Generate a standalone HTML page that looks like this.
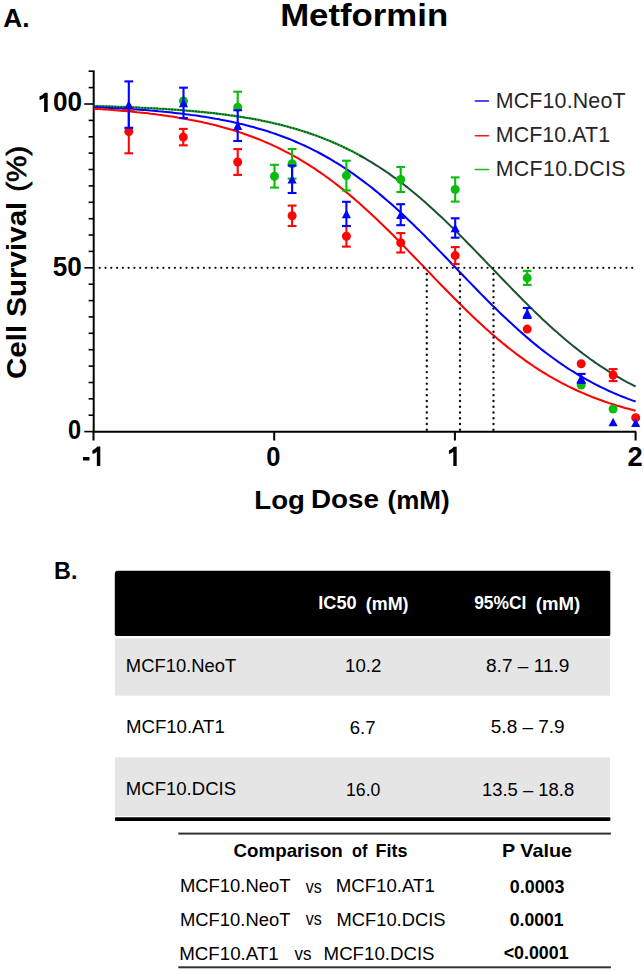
<!DOCTYPE html>
<html><head><meta charset="utf-8"><style>
html,body{margin:0;padding:0;background:#fff;width:644px;height:972px;overflow:hidden}
svg{display:block}
text{font-family:"Liberation Sans",sans-serif}
</style></head><body>
<svg width="644" height="972" viewBox="0 0 644 972">
<rect width="644" height="972" fill="#fff"/>
<path d="M117.8,570.7 H608.8 Q610.3,570.7 610.3,572.2 V634.4 Q610.3,635.9 608.8,635.9 H116.5 Q114.8,635.9 114.8,634.2 V573.7 Q114.8,570.7 117.8,570.7 Z" fill="#000"/>
<rect x="114.9" y="638.3" width="495.2" height="57.4" fill="#e5e5e5"/>
<rect x="114.9" y="757.3" width="495.2" height="58.7" fill="#e5e5e5"/>
<rect x="115" y="817.3" width="495.4" height="3.8" rx="0.8" fill="#000"/>
<rect x="178.3" y="832.6" width="432.6" height="2" fill="#333"/>
<rect x="178.3" y="966.3" width="432.6" height="2" fill="#333"/>
<line x1="93.7" y1="70.5" x2="93.7" y2="432.5" stroke="#000" stroke-width="2"/>
<line x1="92.7" y1="431.7" x2="636.2" y2="431.7" stroke="#000" stroke-width="2"/>
<line x1="84.3" y1="431.6" x2="93.7" y2="431.6" stroke="#000" stroke-width="1.6"/>
<line x1="88.6" y1="415.2" x2="93.7" y2="415.2" stroke="#000" stroke-width="1.6"/>
<line x1="88.6" y1="398.8" x2="93.7" y2="398.8" stroke="#000" stroke-width="1.6"/>
<line x1="88.6" y1="382.5" x2="93.7" y2="382.5" stroke="#000" stroke-width="1.6"/>
<line x1="88.6" y1="366.1" x2="93.7" y2="366.1" stroke="#000" stroke-width="1.6"/>
<line x1="88.6" y1="349.7" x2="93.7" y2="349.7" stroke="#000" stroke-width="1.6"/>
<line x1="88.6" y1="333.3" x2="93.7" y2="333.3" stroke="#000" stroke-width="1.6"/>
<line x1="88.6" y1="316.9" x2="93.7" y2="316.9" stroke="#000" stroke-width="1.6"/>
<line x1="88.6" y1="300.6" x2="93.7" y2="300.6" stroke="#000" stroke-width="1.6"/>
<line x1="88.6" y1="284.2" x2="93.7" y2="284.2" stroke="#000" stroke-width="1.6"/>
<line x1="84.3" y1="267.8" x2="93.7" y2="267.8" stroke="#000" stroke-width="1.6"/>
<line x1="88.6" y1="251.4" x2="93.7" y2="251.4" stroke="#000" stroke-width="1.6"/>
<line x1="88.6" y1="235.0" x2="93.7" y2="235.0" stroke="#000" stroke-width="1.6"/>
<line x1="88.6" y1="218.7" x2="93.7" y2="218.7" stroke="#000" stroke-width="1.6"/>
<line x1="88.6" y1="202.3" x2="93.7" y2="202.3" stroke="#000" stroke-width="1.6"/>
<line x1="88.6" y1="185.9" x2="93.7" y2="185.9" stroke="#000" stroke-width="1.6"/>
<line x1="88.6" y1="169.5" x2="93.7" y2="169.5" stroke="#000" stroke-width="1.6"/>
<line x1="88.6" y1="153.1" x2="93.7" y2="153.1" stroke="#000" stroke-width="1.6"/>
<line x1="88.6" y1="136.8" x2="93.7" y2="136.8" stroke="#000" stroke-width="1.6"/>
<line x1="88.6" y1="120.4" x2="93.7" y2="120.4" stroke="#000" stroke-width="1.6"/>
<line x1="84.3" y1="104.0" x2="93.7" y2="104.0" stroke="#000" stroke-width="1.6"/>
<line x1="88.6" y1="87.6" x2="93.7" y2="87.6" stroke="#000" stroke-width="1.6"/>
<line x1="88.6" y1="71.2" x2="93.7" y2="71.2" stroke="#000" stroke-width="1.6"/>
<line x1="93.5" y1="431.7" x2="93.5" y2="440.5" stroke="#000" stroke-width="2"/>
<line x1="274.2" y1="431.7" x2="274.2" y2="440.5" stroke="#000" stroke-width="2"/>
<line x1="454.9" y1="431.7" x2="454.9" y2="440.5" stroke="#000" stroke-width="2"/>
<line x1="635.6" y1="431.7" x2="635.6" y2="440.5" stroke="#000" stroke-width="2"/>
<polyline points="93.5,106.0 96.2,106.1 99.0,106.2 101.7,106.3 104.4,106.3 107.1,106.4 109.9,106.5 112.6,106.6 115.3,106.7 118.1,106.8 120.8,106.9 123.5,107.0 126.2,107.1 129.0,107.2 131.7,107.3 134.4,107.4 137.2,107.5 139.9,107.7 142.6,107.8 145.3,107.9 148.1,108.1 150.8,108.2 153.5,108.3 156.3,108.5 159.0,108.7 161.7,108.8 164.4,109.0 167.2,109.2 169.9,109.3 172.6,109.5 175.4,109.7 178.1,109.9 180.8,110.1 183.5,110.3 186.3,110.6 189.0,110.8 191.7,111.0 194.5,111.3 197.2,111.5 199.9,111.8 202.6,112.0 205.4,112.3 208.1,112.6 210.8,112.9 213.6,113.2 216.3,113.5 219.0,113.8 221.7,114.2 224.5,114.5 227.2,114.9 229.9,115.3 232.6,115.6 235.4,116.0 238.1,116.5 240.8,116.9 243.6,117.3 246.3,117.8 249.0,118.2 251.7,118.7 254.5,119.2 257.2,119.7 259.9,120.2 262.7,120.8 265.4,121.4 268.1,121.9 270.8,122.5 273.6,123.2 276.3,123.8 279.0,124.4 281.8,125.1 284.5,125.8 287.2,126.5 289.9,127.3 292.7,128.0 295.4,128.8 298.1,129.6 300.9,130.5 303.6,131.3 306.3,132.2 309.0,133.1 311.8,134.1 314.5,135.0 317.2,136.0 320.0,137.0 322.7,138.1 325.4,139.2 328.1,140.3 330.9,141.4 333.6,142.6 336.3,143.8 339.1,145.0 341.8,146.3 344.5,147.6 347.2,148.9 350.0,150.2 352.7,151.6 355.4,153.1 358.2,154.5 360.9,156.1 363.6,157.6" fill="none" stroke="#22a52c" stroke-width="2.3"/>
<polyline points="93.5,106.0 96.2,106.1 99.0,106.2 101.7,106.3 104.4,106.3 107.1,106.4 109.9,106.5 112.6,106.6 115.3,106.7 118.1,106.8 120.8,106.9 123.5,107.0 126.2,107.1 129.0,107.2 131.7,107.3 134.4,107.4 137.2,107.5 139.9,107.7 142.6,107.8 145.3,107.9 148.1,108.1 150.8,108.2 153.5,108.3 156.3,108.5 159.0,108.7 161.7,108.8 164.4,109.0 167.2,109.2 169.9,109.3 172.6,109.5 175.4,109.7 178.1,109.9 180.8,110.1 183.5,110.3 186.3,110.6 189.0,110.8 191.7,111.0 194.5,111.3 197.2,111.5 199.9,111.8 202.6,112.0 205.4,112.3 208.1,112.6 210.8,112.9 213.6,113.2 216.3,113.5 219.0,113.8 221.7,114.2 224.5,114.5 227.2,114.9 229.9,115.3 232.6,115.6 235.4,116.0 238.1,116.5 240.8,116.9 243.6,117.3 246.3,117.8 249.0,118.2 251.7,118.7 254.5,119.2 257.2,119.7 259.9,120.2 262.7,120.8 265.4,121.4 268.1,121.9 270.8,122.5 273.6,123.2 276.3,123.8 279.0,124.4 281.8,125.1 284.5,125.8 287.2,126.5 289.9,127.3 292.7,128.0 295.4,128.8 298.1,129.6 300.9,130.5 303.6,131.3 306.3,132.2 309.0,133.1 311.8,134.1 314.5,135.0 317.2,136.0 320.0,137.0 322.7,138.1 325.4,139.2 328.1,140.3 330.9,141.4 333.6,142.6 336.3,143.8 339.1,145.0 341.8,146.3 344.5,147.6 347.2,148.9 350.0,150.2 352.7,151.6 355.4,153.1 358.2,154.5 360.9,156.1 363.6,157.6" fill="none" stroke="#103f30" stroke-width="1.5" stroke-dasharray="1.5 1.5"/>
<polyline points="360.0,155.6 362.7,157.1 365.5,158.7 368.2,160.3 370.9,161.9 373.6,163.6 376.4,165.3 379.1,167.0 381.8,168.8 384.6,170.6 387.3,172.5 390.0,174.4 392.7,176.4 395.5,178.3 398.2,180.4 400.9,182.4 403.7,184.5 406.4,186.6 409.1,188.8 411.8,191.0 414.6,193.2 417.3,195.5 420.0,197.8 422.8,200.2 425.5,202.6 428.2,205.0 430.9,207.4 433.7,209.9 436.4,212.4 439.1,214.9 441.9,217.5 444.6,220.1 447.3,222.7 450.0,225.4 452.8,228.0 455.5,230.7 458.2,233.4 461.0,236.2 463.7,238.9 466.4,241.7 469.1,244.5 471.9,247.3 474.6,250.1 477.3,252.9 480.1,255.7 482.8,258.5 485.5,261.4 488.2,264.2 491.0,267.1 493.7,269.9 496.4,272.8 499.2,275.6 501.9,278.5 504.6,281.3 507.4,284.1 510.1,286.9 512.8,289.7 515.5,292.5 518.3,295.3 521.0,298.0 523.7,300.8 526.5,303.5 529.2,306.2 531.9,308.9 534.6,311.6 537.4,314.2 540.1,316.8 542.8,319.4 545.6,321.9 548.3,324.4 551.0,326.9 553.7,329.4 556.5,331.8 559.2,334.2 561.9,336.6 564.7,338.9 567.4,341.2 570.1,343.5 572.8,345.7 575.6,347.9 578.3,350.0 581.0,352.1 583.8,354.2 586.5,356.2 589.2,358.2 591.9,360.2 594.7,362.1 597.4,364.0 600.1,365.9 602.9,367.7 605.6,369.4 608.3,371.2 611.0,372.9 613.8,374.5 616.5,376.1 619.2,377.7 622.0,379.3 624.7,380.8 627.4,382.3 630.1,383.7 632.9,385.1 635.6,386.5" fill="none" stroke="#1b5034" stroke-width="2.0"/>
<polyline points="93.5,107.2 96.2,107.3 98.9,107.4 101.6,107.6 104.3,107.7 107.1,107.8 109.8,107.9 112.5,108.1 115.2,108.2 117.9,108.4 120.6,108.5 123.3,108.7 126.0,108.8 128.7,109.0 131.4,109.2 134.2,109.4 136.9,109.5 139.6,109.7 142.3,109.9 145.0,110.1 147.7,110.3 150.4,110.6 153.1,110.8 155.8,111.0 158.6,111.3 161.3,111.5 164.0,111.8 166.7,112.0 169.4,112.3 172.1,112.6 174.8,112.9 177.5,113.2 180.2,113.5 182.9,113.8 185.7,114.2 188.4,114.5 191.1,114.9 193.8,115.2 196.5,115.6 199.2,116.0 201.9,116.4 204.6,116.8 207.3,117.3 210.1,117.7 212.8,118.2 215.5,118.7 218.2,119.1 220.9,119.7 223.6,120.2 226.3,120.7 229.0,121.3 231.7,121.8 234.4,122.4 237.2,123.0 239.9,123.7 242.6,124.3 245.3,125.0 248.0,125.7 250.7,126.4 253.4,127.1 256.1,127.9 258.8,128.7 261.6,129.5 264.3,130.3 267.0,131.1 269.7,132.0 272.4,132.9 275.1,133.8 277.8,134.8 280.5,135.7 283.2,136.7 285.9,137.8 288.7,138.8 291.4,139.9 294.1,141.0 296.8,142.2 299.5,143.4 302.2,144.6 304.9,145.8 307.6,147.1 310.3,148.4 313.1,149.8 315.8,151.1 318.5,152.5 321.2,154.0 323.9,155.5 326.6,157.0 329.3,158.5 332.0,160.1 334.7,161.8 337.4,163.4 340.2,165.1 342.9,166.9 345.6,168.6 348.3,170.4 351.0,172.3 353.7,174.2 356.4,176.1 359.1,178.1 361.8,180.1 364.5,182.1 367.3,184.2 370.0,186.3 372.7,188.4 375.4,190.6 378.1,192.8 380.8,195.1 383.5,197.4 386.2,199.7 388.9,202.0 391.7,204.4 394.4,206.8 397.1,209.3 399.8,211.8 402.5,214.3 405.2,216.8 407.9,219.4 410.6,222.0 413.3,224.6 416.0,227.3 418.8,229.9 421.5,232.6 424.2,235.3 426.9,238.1 429.6,240.8 432.3,243.6 435.0,246.3 437.7,249.1 440.4,251.9 443.2,254.7 445.9,257.5 448.6,260.4 451.3,263.2 454.0,266.0 456.7,268.8 459.4,271.7 462.1,274.5 464.8,277.3 467.5,280.1 470.3,282.9 473.0,285.7 475.7,288.5 478.4,291.3 481.1,294.1 483.8,296.8 486.5,299.5 489.2,302.3 491.9,305.0 494.7,307.6 497.4,310.3 500.1,312.9 502.8,315.5 505.5,318.1 508.2,320.6 510.9,323.1 513.6,325.6 516.3,328.1 519.0,330.5 521.8,332.9 524.5,335.3 527.2,337.6 529.9,339.9 532.6,342.2 535.3,344.4 538.0,346.6 540.7,348.8 543.4,350.9 546.2,353.0 548.9,355.0 551.6,357.0 554.3,359.0 557.0,360.9 559.7,362.8 562.4,364.7 565.1,366.5 567.8,368.3 570.5,370.0 573.3,371.7 576.0,373.4 578.7,375.0 581.4,376.6 584.1,378.2 586.8,379.7 589.5,381.2 592.2,382.7 594.9,384.1 597.7,385.5 600.4,386.8 603.1,388.1 605.8,389.4 608.5,390.7 611.2,391.9 613.9,393.1 616.6,394.3 619.3,395.4 622.0,396.5 624.8,397.5 627.5,398.6 630.2,399.6 632.9,400.6 635.6,401.5" fill="none" stroke="#0000ff" stroke-width="2.05"/>
<polyline points="93.5,108.7 96.2,108.9 98.9,109.1 101.6,109.3 104.3,109.4 107.1,109.6 109.8,109.8 112.5,110.0 115.2,110.2 117.9,110.4 120.6,110.7 123.3,110.9 126.0,111.1 128.7,111.4 131.4,111.6 134.2,111.9 136.9,112.2 139.6,112.4 142.3,112.7 145.0,113.0 147.7,113.3 150.4,113.7 153.1,114.0 155.8,114.3 158.6,114.7 161.3,115.0 164.0,115.4 166.7,115.8 169.4,116.2 172.1,116.6 174.8,117.0 177.5,117.5 180.2,117.9 182.9,118.4 185.7,118.9 188.4,119.4 191.1,119.9 193.8,120.4 196.5,121.0 199.2,121.5 201.9,122.1 204.6,122.7 207.3,123.3 210.1,124.0 212.8,124.6 215.5,125.3 218.2,126.0 220.9,126.7 223.6,127.5 226.3,128.2 229.0,129.0 231.7,129.8 234.4,130.6 237.2,131.5 239.9,132.4 242.6,133.3 245.3,134.2 248.0,135.2 250.7,136.2 253.4,137.2 256.1,138.2 258.8,139.3 261.6,140.4 264.3,141.6 267.0,142.7 269.7,143.9 272.4,145.1 275.1,146.4 277.8,147.7 280.5,149.0 283.2,150.4 285.9,151.8 288.7,153.2 291.4,154.7 294.1,156.1 296.8,157.7 299.5,159.2 302.2,160.9 304.9,162.5 307.6,164.2 310.3,165.9 313.1,167.6 315.8,169.4 318.5,171.3 321.2,173.1 323.9,175.0 326.6,177.0 329.3,178.9 332.0,181.0 334.7,183.0 337.4,185.1 340.2,187.2 342.9,189.4 345.6,191.6 348.3,193.8 351.0,196.1 353.7,198.4 356.4,200.7 359.1,203.1 361.8,205.5 364.5,207.9 367.3,210.4 370.0,212.9 372.7,215.4 375.4,218.0 378.1,220.6 380.8,223.2 383.5,225.8 386.2,228.5 388.9,231.1 391.7,233.8 394.4,236.5 397.1,239.3 399.8,242.0 402.5,244.8 405.2,247.6 407.9,250.4 410.6,253.2 413.3,256.0 416.0,258.8 418.8,261.6 421.5,264.4 424.2,267.3 426.9,270.1 429.6,272.9 432.3,275.8 435.0,278.6 437.7,281.4 440.4,284.2 443.2,287.0 445.9,289.8 448.6,292.5 451.3,295.3 454.0,298.0 456.7,300.8 459.4,303.5 462.1,306.1 464.8,308.8 467.5,311.5 470.3,314.1 473.0,316.7 475.7,319.2 478.4,321.8 481.1,324.3 483.8,326.7 486.5,329.2 489.2,331.6 491.9,334.0 494.7,336.3 497.4,338.7 500.1,340.9 502.8,343.2 505.5,345.4 508.2,347.6 510.9,349.7 513.6,351.8 516.3,353.9 519.0,355.9 521.8,357.9 524.5,359.9 527.2,361.8 529.9,363.7 532.6,365.5 535.3,367.3 538.0,369.1 540.7,370.8 543.4,372.5 546.2,374.1 548.9,375.8 551.6,377.3 554.3,378.9 557.0,380.4 559.7,381.9 562.4,383.3 565.1,384.7 567.8,386.1 570.5,387.4 573.3,388.7 576.0,390.0 578.7,391.2 581.4,392.4 584.1,393.6 586.8,394.8 589.5,395.9 592.2,397.0 594.9,398.0 597.7,399.0 600.4,400.0 603.1,401.0 605.8,402.0 608.5,402.9 611.2,403.8 613.9,404.6 616.6,405.5 619.3,406.3 622.0,407.1 624.8,407.9 627.5,408.6 630.2,409.3 632.9,410.0 635.6,410.7" fill="none" stroke="#ff0000" stroke-width="2.05"/>
<path d="M98.55,267.8a1.15,1.15 0 1,0 2.3,0a1.15,1.15 0 1,0 -2.3,0M104.34,267.8a1.15,1.15 0 1,0 2.3,0a1.15,1.15 0 1,0 -2.3,0M110.13,267.8a1.15,1.15 0 1,0 2.3,0a1.15,1.15 0 1,0 -2.3,0M115.91,267.8a1.15,1.15 0 1,0 2.3,0a1.15,1.15 0 1,0 -2.3,0M121.70,267.8a1.15,1.15 0 1,0 2.3,0a1.15,1.15 0 1,0 -2.3,0M127.49,267.8a1.15,1.15 0 1,0 2.3,0a1.15,1.15 0 1,0 -2.3,0M133.28,267.8a1.15,1.15 0 1,0 2.3,0a1.15,1.15 0 1,0 -2.3,0M139.07,267.8a1.15,1.15 0 1,0 2.3,0a1.15,1.15 0 1,0 -2.3,0M144.85,267.8a1.15,1.15 0 1,0 2.3,0a1.15,1.15 0 1,0 -2.3,0M150.64,267.8a1.15,1.15 0 1,0 2.3,0a1.15,1.15 0 1,0 -2.3,0M156.43,267.8a1.15,1.15 0 1,0 2.3,0a1.15,1.15 0 1,0 -2.3,0M162.22,267.8a1.15,1.15 0 1,0 2.3,0a1.15,1.15 0 1,0 -2.3,0M168.01,267.8a1.15,1.15 0 1,0 2.3,0a1.15,1.15 0 1,0 -2.3,0M173.79,267.8a1.15,1.15 0 1,0 2.3,0a1.15,1.15 0 1,0 -2.3,0M179.58,267.8a1.15,1.15 0 1,0 2.3,0a1.15,1.15 0 1,0 -2.3,0M185.37,267.8a1.15,1.15 0 1,0 2.3,0a1.15,1.15 0 1,0 -2.3,0M191.16,267.8a1.15,1.15 0 1,0 2.3,0a1.15,1.15 0 1,0 -2.3,0M196.95,267.8a1.15,1.15 0 1,0 2.3,0a1.15,1.15 0 1,0 -2.3,0M202.73,267.8a1.15,1.15 0 1,0 2.3,0a1.15,1.15 0 1,0 -2.3,0M208.52,267.8a1.15,1.15 0 1,0 2.3,0a1.15,1.15 0 1,0 -2.3,0M214.31,267.8a1.15,1.15 0 1,0 2.3,0a1.15,1.15 0 1,0 -2.3,0M220.10,267.8a1.15,1.15 0 1,0 2.3,0a1.15,1.15 0 1,0 -2.3,0M225.89,267.8a1.15,1.15 0 1,0 2.3,0a1.15,1.15 0 1,0 -2.3,0M231.67,267.8a1.15,1.15 0 1,0 2.3,0a1.15,1.15 0 1,0 -2.3,0M237.46,267.8a1.15,1.15 0 1,0 2.3,0a1.15,1.15 0 1,0 -2.3,0M243.25,267.8a1.15,1.15 0 1,0 2.3,0a1.15,1.15 0 1,0 -2.3,0M249.04,267.8a1.15,1.15 0 1,0 2.3,0a1.15,1.15 0 1,0 -2.3,0M254.83,267.8a1.15,1.15 0 1,0 2.3,0a1.15,1.15 0 1,0 -2.3,0M260.62,267.8a1.15,1.15 0 1,0 2.3,0a1.15,1.15 0 1,0 -2.3,0M266.40,267.8a1.15,1.15 0 1,0 2.3,0a1.15,1.15 0 1,0 -2.3,0M272.19,267.8a1.15,1.15 0 1,0 2.3,0a1.15,1.15 0 1,0 -2.3,0M277.98,267.8a1.15,1.15 0 1,0 2.3,0a1.15,1.15 0 1,0 -2.3,0M283.77,267.8a1.15,1.15 0 1,0 2.3,0a1.15,1.15 0 1,0 -2.3,0M289.56,267.8a1.15,1.15 0 1,0 2.3,0a1.15,1.15 0 1,0 -2.3,0M295.34,267.8a1.15,1.15 0 1,0 2.3,0a1.15,1.15 0 1,0 -2.3,0M301.13,267.8a1.15,1.15 0 1,0 2.3,0a1.15,1.15 0 1,0 -2.3,0M306.92,267.8a1.15,1.15 0 1,0 2.3,0a1.15,1.15 0 1,0 -2.3,0M312.71,267.8a1.15,1.15 0 1,0 2.3,0a1.15,1.15 0 1,0 -2.3,0M318.50,267.8a1.15,1.15 0 1,0 2.3,0a1.15,1.15 0 1,0 -2.3,0M324.28,267.8a1.15,1.15 0 1,0 2.3,0a1.15,1.15 0 1,0 -2.3,0M330.07,267.8a1.15,1.15 0 1,0 2.3,0a1.15,1.15 0 1,0 -2.3,0M335.86,267.8a1.15,1.15 0 1,0 2.3,0a1.15,1.15 0 1,0 -2.3,0M341.65,267.8a1.15,1.15 0 1,0 2.3,0a1.15,1.15 0 1,0 -2.3,0M347.44,267.8a1.15,1.15 0 1,0 2.3,0a1.15,1.15 0 1,0 -2.3,0M353.22,267.8a1.15,1.15 0 1,0 2.3,0a1.15,1.15 0 1,0 -2.3,0M359.01,267.8a1.15,1.15 0 1,0 2.3,0a1.15,1.15 0 1,0 -2.3,0M364.80,267.8a1.15,1.15 0 1,0 2.3,0a1.15,1.15 0 1,0 -2.3,0M370.59,267.8a1.15,1.15 0 1,0 2.3,0a1.15,1.15 0 1,0 -2.3,0M376.38,267.8a1.15,1.15 0 1,0 2.3,0a1.15,1.15 0 1,0 -2.3,0M382.16,267.8a1.15,1.15 0 1,0 2.3,0a1.15,1.15 0 1,0 -2.3,0M387.95,267.8a1.15,1.15 0 1,0 2.3,0a1.15,1.15 0 1,0 -2.3,0M393.74,267.8a1.15,1.15 0 1,0 2.3,0a1.15,1.15 0 1,0 -2.3,0M399.53,267.8a1.15,1.15 0 1,0 2.3,0a1.15,1.15 0 1,0 -2.3,0M405.32,267.8a1.15,1.15 0 1,0 2.3,0a1.15,1.15 0 1,0 -2.3,0M411.10,267.8a1.15,1.15 0 1,0 2.3,0a1.15,1.15 0 1,0 -2.3,0M416.89,267.8a1.15,1.15 0 1,0 2.3,0a1.15,1.15 0 1,0 -2.3,0M422.68,267.8a1.15,1.15 0 1,0 2.3,0a1.15,1.15 0 1,0 -2.3,0M428.47,267.8a1.15,1.15 0 1,0 2.3,0a1.15,1.15 0 1,0 -2.3,0M434.26,267.8a1.15,1.15 0 1,0 2.3,0a1.15,1.15 0 1,0 -2.3,0M440.04,267.8a1.15,1.15 0 1,0 2.3,0a1.15,1.15 0 1,0 -2.3,0M445.83,267.8a1.15,1.15 0 1,0 2.3,0a1.15,1.15 0 1,0 -2.3,0M451.62,267.8a1.15,1.15 0 1,0 2.3,0a1.15,1.15 0 1,0 -2.3,0M457.41,267.8a1.15,1.15 0 1,0 2.3,0a1.15,1.15 0 1,0 -2.3,0M463.20,267.8a1.15,1.15 0 1,0 2.3,0a1.15,1.15 0 1,0 -2.3,0M468.98,267.8a1.15,1.15 0 1,0 2.3,0a1.15,1.15 0 1,0 -2.3,0M474.77,267.8a1.15,1.15 0 1,0 2.3,0a1.15,1.15 0 1,0 -2.3,0M480.56,267.8a1.15,1.15 0 1,0 2.3,0a1.15,1.15 0 1,0 -2.3,0M486.35,267.8a1.15,1.15 0 1,0 2.3,0a1.15,1.15 0 1,0 -2.3,0M492.14,267.8a1.15,1.15 0 1,0 2.3,0a1.15,1.15 0 1,0 -2.3,0M497.93,267.8a1.15,1.15 0 1,0 2.3,0a1.15,1.15 0 1,0 -2.3,0M503.71,267.8a1.15,1.15 0 1,0 2.3,0a1.15,1.15 0 1,0 -2.3,0M509.50,267.8a1.15,1.15 0 1,0 2.3,0a1.15,1.15 0 1,0 -2.3,0M515.29,267.8a1.15,1.15 0 1,0 2.3,0a1.15,1.15 0 1,0 -2.3,0M521.08,267.8a1.15,1.15 0 1,0 2.3,0a1.15,1.15 0 1,0 -2.3,0M526.87,267.8a1.15,1.15 0 1,0 2.3,0a1.15,1.15 0 1,0 -2.3,0M532.65,267.8a1.15,1.15 0 1,0 2.3,0a1.15,1.15 0 1,0 -2.3,0M538.44,267.8a1.15,1.15 0 1,0 2.3,0a1.15,1.15 0 1,0 -2.3,0M544.23,267.8a1.15,1.15 0 1,0 2.3,0a1.15,1.15 0 1,0 -2.3,0M550.02,267.8a1.15,1.15 0 1,0 2.3,0a1.15,1.15 0 1,0 -2.3,0M555.81,267.8a1.15,1.15 0 1,0 2.3,0a1.15,1.15 0 1,0 -2.3,0M561.59,267.8a1.15,1.15 0 1,0 2.3,0a1.15,1.15 0 1,0 -2.3,0M567.38,267.8a1.15,1.15 0 1,0 2.3,0a1.15,1.15 0 1,0 -2.3,0M573.17,267.8a1.15,1.15 0 1,0 2.3,0a1.15,1.15 0 1,0 -2.3,0M578.96,267.8a1.15,1.15 0 1,0 2.3,0a1.15,1.15 0 1,0 -2.3,0M584.75,267.8a1.15,1.15 0 1,0 2.3,0a1.15,1.15 0 1,0 -2.3,0M590.53,267.8a1.15,1.15 0 1,0 2.3,0a1.15,1.15 0 1,0 -2.3,0M596.32,267.8a1.15,1.15 0 1,0 2.3,0a1.15,1.15 0 1,0 -2.3,0M602.11,267.8a1.15,1.15 0 1,0 2.3,0a1.15,1.15 0 1,0 -2.3,0M607.90,267.8a1.15,1.15 0 1,0 2.3,0a1.15,1.15 0 1,0 -2.3,0M613.69,267.8a1.15,1.15 0 1,0 2.3,0a1.15,1.15 0 1,0 -2.3,0M619.47,267.8a1.15,1.15 0 1,0 2.3,0a1.15,1.15 0 1,0 -2.3,0M625.26,267.8a1.15,1.15 0 1,0 2.3,0a1.15,1.15 0 1,0 -2.3,0M631.05,267.8a1.15,1.15 0 1,0 2.3,0a1.15,1.15 0 1,0 -2.3,0M425.60,274.00a1.2,1.2 0 1,0 2.4,0a1.2,1.2 0 1,0 -2.4,0M425.60,279.77a1.2,1.2 0 1,0 2.4,0a1.2,1.2 0 1,0 -2.4,0M425.60,285.54a1.2,1.2 0 1,0 2.4,0a1.2,1.2 0 1,0 -2.4,0M425.60,291.31a1.2,1.2 0 1,0 2.4,0a1.2,1.2 0 1,0 -2.4,0M425.60,297.08a1.2,1.2 0 1,0 2.4,0a1.2,1.2 0 1,0 -2.4,0M425.60,302.85a1.2,1.2 0 1,0 2.4,0a1.2,1.2 0 1,0 -2.4,0M425.60,308.62a1.2,1.2 0 1,0 2.4,0a1.2,1.2 0 1,0 -2.4,0M425.60,314.39a1.2,1.2 0 1,0 2.4,0a1.2,1.2 0 1,0 -2.4,0M425.60,320.16a1.2,1.2 0 1,0 2.4,0a1.2,1.2 0 1,0 -2.4,0M425.60,325.93a1.2,1.2 0 1,0 2.4,0a1.2,1.2 0 1,0 -2.4,0M425.60,331.70a1.2,1.2 0 1,0 2.4,0a1.2,1.2 0 1,0 -2.4,0M425.60,337.47a1.2,1.2 0 1,0 2.4,0a1.2,1.2 0 1,0 -2.4,0M425.60,343.24a1.2,1.2 0 1,0 2.4,0a1.2,1.2 0 1,0 -2.4,0M425.60,349.01a1.2,1.2 0 1,0 2.4,0a1.2,1.2 0 1,0 -2.4,0M425.60,354.78a1.2,1.2 0 1,0 2.4,0a1.2,1.2 0 1,0 -2.4,0M425.60,360.55a1.2,1.2 0 1,0 2.4,0a1.2,1.2 0 1,0 -2.4,0M425.60,366.32a1.2,1.2 0 1,0 2.4,0a1.2,1.2 0 1,0 -2.4,0M425.60,372.09a1.2,1.2 0 1,0 2.4,0a1.2,1.2 0 1,0 -2.4,0M425.60,377.86a1.2,1.2 0 1,0 2.4,0a1.2,1.2 0 1,0 -2.4,0M425.60,383.63a1.2,1.2 0 1,0 2.4,0a1.2,1.2 0 1,0 -2.4,0M425.60,389.40a1.2,1.2 0 1,0 2.4,0a1.2,1.2 0 1,0 -2.4,0M425.60,395.17a1.2,1.2 0 1,0 2.4,0a1.2,1.2 0 1,0 -2.4,0M425.60,400.94a1.2,1.2 0 1,0 2.4,0a1.2,1.2 0 1,0 -2.4,0M425.60,406.71a1.2,1.2 0 1,0 2.4,0a1.2,1.2 0 1,0 -2.4,0M425.60,412.48a1.2,1.2 0 1,0 2.4,0a1.2,1.2 0 1,0 -2.4,0M425.60,418.25a1.2,1.2 0 1,0 2.4,0a1.2,1.2 0 1,0 -2.4,0M425.60,424.02a1.2,1.2 0 1,0 2.4,0a1.2,1.2 0 1,0 -2.4,0M425.60,429.79a1.2,1.2 0 1,0 2.4,0a1.2,1.2 0 1,0 -2.4,0M458.80,274.00a1.2,1.2 0 1,0 2.4,0a1.2,1.2 0 1,0 -2.4,0M458.80,279.77a1.2,1.2 0 1,0 2.4,0a1.2,1.2 0 1,0 -2.4,0M458.80,285.54a1.2,1.2 0 1,0 2.4,0a1.2,1.2 0 1,0 -2.4,0M458.80,291.31a1.2,1.2 0 1,0 2.4,0a1.2,1.2 0 1,0 -2.4,0M458.80,297.08a1.2,1.2 0 1,0 2.4,0a1.2,1.2 0 1,0 -2.4,0M458.80,302.85a1.2,1.2 0 1,0 2.4,0a1.2,1.2 0 1,0 -2.4,0M458.80,308.62a1.2,1.2 0 1,0 2.4,0a1.2,1.2 0 1,0 -2.4,0M458.80,314.39a1.2,1.2 0 1,0 2.4,0a1.2,1.2 0 1,0 -2.4,0M458.80,320.16a1.2,1.2 0 1,0 2.4,0a1.2,1.2 0 1,0 -2.4,0M458.80,325.93a1.2,1.2 0 1,0 2.4,0a1.2,1.2 0 1,0 -2.4,0M458.80,331.70a1.2,1.2 0 1,0 2.4,0a1.2,1.2 0 1,0 -2.4,0M458.80,337.47a1.2,1.2 0 1,0 2.4,0a1.2,1.2 0 1,0 -2.4,0M458.80,343.24a1.2,1.2 0 1,0 2.4,0a1.2,1.2 0 1,0 -2.4,0M458.80,349.01a1.2,1.2 0 1,0 2.4,0a1.2,1.2 0 1,0 -2.4,0M458.80,354.78a1.2,1.2 0 1,0 2.4,0a1.2,1.2 0 1,0 -2.4,0M458.80,360.55a1.2,1.2 0 1,0 2.4,0a1.2,1.2 0 1,0 -2.4,0M458.80,366.32a1.2,1.2 0 1,0 2.4,0a1.2,1.2 0 1,0 -2.4,0M458.80,372.09a1.2,1.2 0 1,0 2.4,0a1.2,1.2 0 1,0 -2.4,0M458.80,377.86a1.2,1.2 0 1,0 2.4,0a1.2,1.2 0 1,0 -2.4,0M458.80,383.63a1.2,1.2 0 1,0 2.4,0a1.2,1.2 0 1,0 -2.4,0M458.80,389.40a1.2,1.2 0 1,0 2.4,0a1.2,1.2 0 1,0 -2.4,0M458.80,395.17a1.2,1.2 0 1,0 2.4,0a1.2,1.2 0 1,0 -2.4,0M458.80,400.94a1.2,1.2 0 1,0 2.4,0a1.2,1.2 0 1,0 -2.4,0M458.80,406.71a1.2,1.2 0 1,0 2.4,0a1.2,1.2 0 1,0 -2.4,0M458.80,412.48a1.2,1.2 0 1,0 2.4,0a1.2,1.2 0 1,0 -2.4,0M458.80,418.25a1.2,1.2 0 1,0 2.4,0a1.2,1.2 0 1,0 -2.4,0M458.80,424.02a1.2,1.2 0 1,0 2.4,0a1.2,1.2 0 1,0 -2.4,0M458.80,429.79a1.2,1.2 0 1,0 2.4,0a1.2,1.2 0 1,0 -2.4,0M492.30,274.00a1.2,1.2 0 1,0 2.4,0a1.2,1.2 0 1,0 -2.4,0M492.30,279.77a1.2,1.2 0 1,0 2.4,0a1.2,1.2 0 1,0 -2.4,0M492.30,285.54a1.2,1.2 0 1,0 2.4,0a1.2,1.2 0 1,0 -2.4,0M492.30,291.31a1.2,1.2 0 1,0 2.4,0a1.2,1.2 0 1,0 -2.4,0M492.30,297.08a1.2,1.2 0 1,0 2.4,0a1.2,1.2 0 1,0 -2.4,0M492.30,302.85a1.2,1.2 0 1,0 2.4,0a1.2,1.2 0 1,0 -2.4,0M492.30,308.62a1.2,1.2 0 1,0 2.4,0a1.2,1.2 0 1,0 -2.4,0M492.30,314.39a1.2,1.2 0 1,0 2.4,0a1.2,1.2 0 1,0 -2.4,0M492.30,320.16a1.2,1.2 0 1,0 2.4,0a1.2,1.2 0 1,0 -2.4,0M492.30,325.93a1.2,1.2 0 1,0 2.4,0a1.2,1.2 0 1,0 -2.4,0M492.30,331.70a1.2,1.2 0 1,0 2.4,0a1.2,1.2 0 1,0 -2.4,0M492.30,337.47a1.2,1.2 0 1,0 2.4,0a1.2,1.2 0 1,0 -2.4,0M492.30,343.24a1.2,1.2 0 1,0 2.4,0a1.2,1.2 0 1,0 -2.4,0M492.30,349.01a1.2,1.2 0 1,0 2.4,0a1.2,1.2 0 1,0 -2.4,0M492.30,354.78a1.2,1.2 0 1,0 2.4,0a1.2,1.2 0 1,0 -2.4,0M492.30,360.55a1.2,1.2 0 1,0 2.4,0a1.2,1.2 0 1,0 -2.4,0M492.30,366.32a1.2,1.2 0 1,0 2.4,0a1.2,1.2 0 1,0 -2.4,0M492.30,372.09a1.2,1.2 0 1,0 2.4,0a1.2,1.2 0 1,0 -2.4,0M492.30,377.86a1.2,1.2 0 1,0 2.4,0a1.2,1.2 0 1,0 -2.4,0M492.30,383.63a1.2,1.2 0 1,0 2.4,0a1.2,1.2 0 1,0 -2.4,0M492.30,389.40a1.2,1.2 0 1,0 2.4,0a1.2,1.2 0 1,0 -2.4,0M492.30,395.17a1.2,1.2 0 1,0 2.4,0a1.2,1.2 0 1,0 -2.4,0M492.30,400.94a1.2,1.2 0 1,0 2.4,0a1.2,1.2 0 1,0 -2.4,0M492.30,406.71a1.2,1.2 0 1,0 2.4,0a1.2,1.2 0 1,0 -2.4,0M492.30,412.48a1.2,1.2 0 1,0 2.4,0a1.2,1.2 0 1,0 -2.4,0M492.30,418.25a1.2,1.2 0 1,0 2.4,0a1.2,1.2 0 1,0 -2.4,0M492.30,424.02a1.2,1.2 0 1,0 2.4,0a1.2,1.2 0 1,0 -2.4,0M492.30,429.79a1.2,1.2 0 1,0 2.4,0a1.2,1.2 0 1,0 -2.4,0" fill="#111"/>
<line x1="128.8" y1="109.7" x2="128.8" y2="153.3" stroke="#ff0404" stroke-width="2.1"/><line x1="124.4" y1="109.7" x2="133.2" y2="109.7" stroke="#ff0404" stroke-width="2.1"/><line x1="124.4" y1="153.3" x2="133.2" y2="153.3" stroke="#ff0404" stroke-width="2.1"/>
<line x1="183.3" y1="128.9" x2="183.3" y2="145.3" stroke="#ff0404" stroke-width="2.1"/><line x1="178.9" y1="128.9" x2="187.7" y2="128.9" stroke="#ff0404" stroke-width="2.1"/><line x1="178.9" y1="145.3" x2="187.7" y2="145.3" stroke="#ff0404" stroke-width="2.1"/>
<line x1="237.7" y1="149.1" x2="237.7" y2="174.9" stroke="#ff0404" stroke-width="2.1"/><line x1="233.3" y1="149.1" x2="242.1" y2="149.1" stroke="#ff0404" stroke-width="2.1"/><line x1="233.3" y1="174.9" x2="242.1" y2="174.9" stroke="#ff0404" stroke-width="2.1"/>
<line x1="292.1" y1="205.6" x2="292.1" y2="226.0" stroke="#ff0404" stroke-width="2.1"/><line x1="287.7" y1="205.6" x2="296.5" y2="205.6" stroke="#ff0404" stroke-width="2.1"/><line x1="287.7" y1="226.0" x2="296.5" y2="226.0" stroke="#ff0404" stroke-width="2.1"/>
<line x1="346.4" y1="226.0" x2="346.4" y2="246.6" stroke="#ff0404" stroke-width="2.1"/><line x1="342.0" y1="226.0" x2="350.8" y2="226.0" stroke="#ff0404" stroke-width="2.1"/><line x1="342.0" y1="246.6" x2="350.8" y2="246.6" stroke="#ff0404" stroke-width="2.1"/>
<line x1="400.7" y1="233.1" x2="400.7" y2="252.5" stroke="#ff0404" stroke-width="2.1"/><line x1="396.3" y1="233.1" x2="405.1" y2="233.1" stroke="#ff0404" stroke-width="2.1"/><line x1="396.3" y1="252.5" x2="405.1" y2="252.5" stroke="#ff0404" stroke-width="2.1"/>
<line x1="455.2" y1="247.1" x2="455.2" y2="264.1" stroke="#ff0404" stroke-width="2.1"/><line x1="450.8" y1="247.1" x2="459.6" y2="247.1" stroke="#ff0404" stroke-width="2.1"/><line x1="450.8" y1="264.1" x2="459.6" y2="264.1" stroke="#ff0404" stroke-width="2.1"/>
<line x1="613.1" y1="369.1" x2="613.1" y2="381.1" stroke="#ff0404" stroke-width="2.1"/><line x1="608.7" y1="369.1" x2="617.5" y2="369.1" stroke="#ff0404" stroke-width="2.1"/><line x1="608.7" y1="381.1" x2="617.5" y2="381.1" stroke="#ff0404" stroke-width="2.1"/>
<circle cx="128.8" cy="131.5" r="4.5" fill="#ff0404"/>
<circle cx="183.3" cy="137.1" r="4.5" fill="#ff0404"/>
<circle cx="237.7" cy="162.0" r="4.5" fill="#ff0404"/>
<circle cx="292.1" cy="215.8" r="4.5" fill="#ff0404"/>
<circle cx="346.4" cy="236.3" r="4.5" fill="#ff0404"/>
<circle cx="400.7" cy="242.8" r="4.5" fill="#ff0404"/>
<circle cx="455.2" cy="255.6" r="4.5" fill="#ff0404"/>
<circle cx="527.2" cy="329.1" r="4.5" fill="#ff0404"/>
<circle cx="581.2" cy="363.7" r="4.5" fill="#ff0404"/>
<circle cx="613.1" cy="375.1" r="4.5" fill="#ff0404"/>
<circle cx="635.7" cy="417.8" r="4.5" fill="#ff0404"/>
<line x1="237.7" y1="91.7" x2="237.7" y2="107.2" stroke="#0cbb0c" stroke-width="2.1"/><line x1="233.3" y1="91.7" x2="242.1" y2="91.7" stroke="#0cbb0c" stroke-width="2.1"/>
<line x1="274.5" y1="164.8" x2="274.5" y2="187.6" stroke="#0cbb0c" stroke-width="2.1"/><line x1="270.1" y1="164.8" x2="278.9" y2="164.8" stroke="#0cbb0c" stroke-width="2.1"/><line x1="270.1" y1="187.6" x2="278.9" y2="187.6" stroke="#0cbb0c" stroke-width="2.1"/>
<line x1="292.1" y1="149.0" x2="292.1" y2="178.6" stroke="#0cbb0c" stroke-width="2.1"/><line x1="287.7" y1="149.0" x2="296.5" y2="149.0" stroke="#0cbb0c" stroke-width="2.1"/><line x1="287.7" y1="178.6" x2="296.5" y2="178.6" stroke="#0cbb0c" stroke-width="2.1"/>
<line x1="346.4" y1="160.7" x2="346.4" y2="190.5" stroke="#0cbb0c" stroke-width="2.1"/><line x1="342.0" y1="160.7" x2="350.8" y2="160.7" stroke="#0cbb0c" stroke-width="2.1"/><line x1="342.0" y1="190.5" x2="350.8" y2="190.5" stroke="#0cbb0c" stroke-width="2.1"/>
<line x1="400.7" y1="167.0" x2="400.7" y2="192.0" stroke="#0cbb0c" stroke-width="2.1"/><line x1="396.3" y1="167.0" x2="405.1" y2="167.0" stroke="#0cbb0c" stroke-width="2.1"/><line x1="396.3" y1="192.0" x2="405.1" y2="192.0" stroke="#0cbb0c" stroke-width="2.1"/>
<line x1="455.2" y1="177.4" x2="455.2" y2="201.6" stroke="#0cbb0c" stroke-width="2.1"/><line x1="450.8" y1="177.4" x2="459.6" y2="177.4" stroke="#0cbb0c" stroke-width="2.1"/><line x1="450.8" y1="201.6" x2="459.6" y2="201.6" stroke="#0cbb0c" stroke-width="2.1"/>
<line x1="527.2" y1="270.9" x2="527.2" y2="284.9" stroke="#0cbb0c" stroke-width="2.1"/><line x1="522.8" y1="270.9" x2="531.6" y2="270.9" stroke="#0cbb0c" stroke-width="2.1"/><line x1="522.8" y1="284.9" x2="531.6" y2="284.9" stroke="#0cbb0c" stroke-width="2.1"/>
<circle cx="183.5" cy="101.0" r="4.5" fill="#0cbb0c"/>
<circle cx="237.7" cy="107.2" r="4.5" fill="#0cbb0c"/>
<circle cx="274.5" cy="176.2" r="4.5" fill="#0cbb0c"/>
<circle cx="292.1" cy="163.8" r="4.5" fill="#0cbb0c"/>
<circle cx="346.4" cy="175.6" r="4.5" fill="#0cbb0c"/>
<circle cx="400.7" cy="179.5" r="4.5" fill="#0cbb0c"/>
<circle cx="455.2" cy="189.5" r="4.5" fill="#0cbb0c"/>
<circle cx="527.2" cy="277.9" r="4.5" fill="#0cbb0c"/>
<circle cx="581.2" cy="385.0" r="4.5" fill="#0cbb0c"/>
<circle cx="613.1" cy="409.0" r="4.5" fill="#0cbb0c"/>
<line x1="128.8" y1="81.4" x2="128.8" y2="127.8" stroke="#0202ff" stroke-width="2.1"/><line x1="124.4" y1="81.4" x2="133.2" y2="81.4" stroke="#0202ff" stroke-width="2.1"/><line x1="124.4" y1="127.8" x2="133.2" y2="127.8" stroke="#0202ff" stroke-width="2.1"/>
<line x1="183.5" y1="87.7" x2="183.5" y2="118.1" stroke="#0202ff" stroke-width="2.1"/><line x1="179.1" y1="87.7" x2="187.9" y2="87.7" stroke="#0202ff" stroke-width="2.1"/><line x1="179.1" y1="118.1" x2="187.9" y2="118.1" stroke="#0202ff" stroke-width="2.1"/>
<line x1="237.7" y1="110.2" x2="237.7" y2="141.0" stroke="#0202ff" stroke-width="2.1"/><line x1="233.3" y1="110.2" x2="242.1" y2="110.2" stroke="#0202ff" stroke-width="2.1"/><line x1="233.3" y1="141.0" x2="242.1" y2="141.0" stroke="#0202ff" stroke-width="2.1"/>
<line x1="292.1" y1="165.6" x2="292.1" y2="193.0" stroke="#0202ff" stroke-width="2.1"/><line x1="287.7" y1="165.6" x2="296.5" y2="165.6" stroke="#0202ff" stroke-width="2.1"/><line x1="287.7" y1="193.0" x2="296.5" y2="193.0" stroke="#0202ff" stroke-width="2.1"/>
<line x1="346.4" y1="201.8" x2="346.4" y2="226.0" stroke="#0202ff" stroke-width="2.1"/><line x1="342.0" y1="201.8" x2="350.8" y2="201.8" stroke="#0202ff" stroke-width="2.1"/><line x1="342.0" y1="226.0" x2="350.8" y2="226.0" stroke="#0202ff" stroke-width="2.1"/>
<line x1="400.7" y1="204.2" x2="400.7" y2="225.2" stroke="#0202ff" stroke-width="2.1"/><line x1="396.3" y1="204.2" x2="405.1" y2="204.2" stroke="#0202ff" stroke-width="2.1"/><line x1="396.3" y1="225.2" x2="405.1" y2="225.2" stroke="#0202ff" stroke-width="2.1"/>
<line x1="455.2" y1="218.3" x2="455.2" y2="237.7" stroke="#0202ff" stroke-width="2.1"/><line x1="450.8" y1="218.3" x2="459.6" y2="218.3" stroke="#0202ff" stroke-width="2.1"/><line x1="450.8" y1="237.7" x2="459.6" y2="237.7" stroke="#0202ff" stroke-width="2.1"/>
<line x1="527.2" y1="308.0" x2="527.2" y2="318.0" stroke="#0202ff" stroke-width="2.1"/><line x1="522.8" y1="308.0" x2="531.6" y2="308.0" stroke="#0202ff" stroke-width="2.1"/><line x1="522.8" y1="318.0" x2="531.6" y2="318.0" stroke="#0202ff" stroke-width="2.1"/>
<line x1="581.2" y1="373.9" x2="581.2" y2="382.9" stroke="#0202ff" stroke-width="2.1"/><line x1="576.8" y1="373.9" x2="585.6" y2="373.9" stroke="#0202ff" stroke-width="2.1"/><line x1="576.8" y1="382.9" x2="585.6" y2="382.9" stroke="#0202ff" stroke-width="2.1"/>
<polygon points="128.8,100.3 133.4,108.9 124.2,108.9" fill="#0202ff"/>
<polygon points="183.5,98.6 188.1,107.2 178.9,107.2" fill="#0202ff"/>
<polygon points="237.7,121.3 242.3,129.9 233.1,129.9" fill="#0202ff"/>
<polygon points="292.1,175.0 296.7,183.6 287.5,183.6" fill="#0202ff"/>
<polygon points="346.4,209.6 351.0,218.2 341.8,218.2" fill="#0202ff"/>
<polygon points="400.7,210.4 405.3,219.0 396.1,219.0" fill="#0202ff"/>
<polygon points="455.2,223.7 459.8,232.3 450.6,232.3" fill="#0202ff"/>
<polygon points="527.2,308.7 531.8,317.3 522.6,317.3" fill="#0202ff"/>
<polygon points="581.2,374.1 585.8,382.7 576.6,382.7" fill="#0202ff"/>
<polygon points="613.1,417.7 617.7,426.3 608.5,426.3" fill="#0202ff"/>
<polygon points="635.7,418.5 640.3,427.1 631.1,427.1" fill="#0202ff"/>
<line x1="475.3" y1="101" x2="488.5" y2="101" stroke="#1010f0" stroke-width="1.5" stroke-linecap="round"/>
<line x1="475.3" y1="135.7" x2="488.5" y2="135.7" stroke="#f01818" stroke-width="1.5" stroke-linecap="round"/>
<line x1="475.3" y1="169.4" x2="488.5" y2="169.4" stroke="#20b820" stroke-width="1.5" stroke-linecap="round"/>
<text x="3.32" y="26.98" font-size="26.02" font-weight="bold" fill="#000" textLength="26.27" lengthAdjust="spacingAndGlyphs">A.</text>
<text x="280.16" y="26.00" font-size="31.08" font-weight="bold" fill="#000" textLength="168.02" lengthAdjust="spacingAndGlyphs">Metformin</text>
<text x="53.00" y="111.18" font-size="26.80" font-weight="bold" fill="#000" textLength="29.10" lengthAdjust="spacingAndGlyphs">00</text>
<text x="52.68" y="275.92" font-size="26.80" font-weight="bold" fill="#000" textLength="29.06" lengthAdjust="spacingAndGlyphs">50</text>
<text x="68.08" y="439.00" font-size="26.80" font-weight="bold" fill="#000" textLength="13.10" lengthAdjust="spacingAndGlyphs">0</text>
<text x="266.24" y="466.00" font-size="26.80" font-weight="bold" fill="#000" textLength="14.18" lengthAdjust="spacingAndGlyphs">0</text>
<text x="627.64" y="465.99" font-size="26.80" font-weight="bold" fill="#000" textLength="15.23" lengthAdjust="spacingAndGlyphs">2</text>
<text x="254.30" y="508.76" font-size="25.80" font-weight="bold" fill="#000" textLength="50.54" lengthAdjust="spacingAndGlyphs">Log</text>
<text x="311.00" y="508.45" font-size="25.80" font-weight="bold" fill="#000" textLength="68.10" lengthAdjust="spacingAndGlyphs">Dose</text>
<text x="387.50" y="508.83" font-size="25.80" font-weight="bold" fill="#000" textLength="62.09" lengthAdjust="spacingAndGlyphs">(mM)</text>
<text x="0" y="0" transform="translate(25.80,379.00) rotate(-90)" font-size="27.60" font-weight="bold" fill="#000" textLength="177.30" lengthAdjust="spacingAndGlyphs">Cell Survival</text>
<text x="0" y="0" transform="translate(25.60,191.80) rotate(-90)" font-size="28.00" font-weight="normal" fill="#000" stroke="#000" stroke-width="0.7" textLength="46.00" lengthAdjust="spacingAndGlyphs">(%)</text>
<text x="495.76" y="108.06" font-size="21.40" font-weight="normal" fill="#262626" textLength="129.75" lengthAdjust="spacing">MCF10.NeoT</text>
<text x="495.76" y="142.01" font-size="21.40" font-weight="normal" fill="#262626" textLength="114.40" lengthAdjust="spacing">MCF10.AT1</text>
<text x="495.76" y="176.02" font-size="21.40" font-weight="normal" fill="#262626" textLength="129.79" lengthAdjust="spacing">MCF10.DCIS</text>
<text x="54.12" y="579.27" font-size="23.77" font-weight="bold" fill="#000" textLength="23.37" lengthAdjust="spacingAndGlyphs">B.</text>
<text x="318.28" y="609.24" font-size="18.30" font-weight="bold" fill="#fff" textLength="38.41" lengthAdjust="spacingAndGlyphs">IC50</text>
<text x="365.84" y="609.59" font-size="18.30" font-weight="bold" fill="#fff" textLength="42.75" lengthAdjust="spacingAndGlyphs">(mM)</text>
<text x="474.16" y="609.20" font-size="18.30" font-weight="bold" fill="#fff" textLength="52.17" lengthAdjust="spacingAndGlyphs">95%CI</text>
<text x="535.72" y="609.59" font-size="18.30" font-weight="bold" fill="#fff" textLength="44.45" lengthAdjust="spacingAndGlyphs">(mM)</text>
<text x="125.84" y="672.00" font-size="19.20" font-weight="normal" fill="#000" textLength="110.37" lengthAdjust="spacingAndGlyphs">MCF10.NeoT</text>
<text x="345.12" y="672.04" font-size="19.20" font-weight="normal" fill="#000" textLength="36.26" lengthAdjust="spacingAndGlyphs">10.2</text>
<text x="486.00" y="671.96" font-size="19.20" font-weight="normal" fill="#000" textLength="83.48" lengthAdjust="spacingAndGlyphs">8.7 – 11.9</text>
<text x="125.96" y="733.06" font-size="19.20" font-weight="normal" fill="#000" textLength="98.88" lengthAdjust="spacingAndGlyphs">MCF10.AT1</text>
<text x="349.80" y="733.61" font-size="19.20" font-weight="normal" fill="#000" textLength="25.79" lengthAdjust="spacingAndGlyphs">6.7</text>
<text x="490.80" y="732.68" font-size="19.20" font-weight="normal" fill="#000" textLength="73.88" lengthAdjust="spacingAndGlyphs">5.8 – 7.9</text>
<text x="125.84" y="795.05" font-size="19.20" font-weight="normal" fill="#000" textLength="110.23" lengthAdjust="spacingAndGlyphs">MCF10.DCIS</text>
<text x="346.00" y="795.68" font-size="19.20" font-weight="normal" fill="#000" textLength="34.39" lengthAdjust="spacingAndGlyphs">16.0</text>
<text x="482.00" y="795.69" font-size="19.20" font-weight="normal" fill="#000" textLength="92.20" lengthAdjust="spacingAndGlyphs">13.5 – 18.8</text>
<text x="233.60" y="857.40" font-size="17.90" font-weight="bold" fill="#000" textLength="109.21" lengthAdjust="spacingAndGlyphs">Comparison</text>
<text x="352.00" y="857.37" font-size="17.90" font-weight="bold" fill="#000" textLength="15.35" lengthAdjust="spacingAndGlyphs">of</text>
<text x="375.60" y="857.37" font-size="17.90" font-weight="bold" fill="#000" textLength="31.83" lengthAdjust="spacingAndGlyphs">Fits</text>
<text x="502.04" y="857.00" font-size="17.90" font-weight="bold" fill="#000" textLength="70.02" lengthAdjust="spacingAndGlyphs">P Value</text>
<text x="180.00" y="891.92" font-size="17.60" font-weight="normal" fill="#000" textLength="110.45" lengthAdjust="spacingAndGlyphs">MCF10.NeoT</text>
<text x="305.80" y="892.85" font-size="17.60" font-weight="normal" fill="#000" textLength="15.96" lengthAdjust="spacingAndGlyphs">vs</text>
<text x="335.68" y="891.98" font-size="17.60" font-weight="normal" fill="#000" textLength="99.08" lengthAdjust="spacingAndGlyphs">MCF10.AT1</text>
<text x="180.00" y="925.70" font-size="17.60" font-weight="normal" fill="#000" textLength="110.45" lengthAdjust="spacingAndGlyphs">MCF10.NeoT</text>
<text x="305.80" y="925.45" font-size="17.60" font-weight="normal" fill="#000" textLength="15.96" lengthAdjust="spacingAndGlyphs">vs</text>
<text x="336.60" y="925.70" font-size="17.60" font-weight="normal" fill="#000" textLength="108.86" lengthAdjust="spacingAndGlyphs">MCF10.DCIS</text>
<text x="179.20" y="959.66" font-size="17.60" font-weight="normal" fill="#000" textLength="99.59" lengthAdjust="spacingAndGlyphs">MCF10.AT1</text>
<text x="294.40" y="959.75" font-size="17.60" font-weight="normal" fill="#000" textLength="17.01" lengthAdjust="spacingAndGlyphs">vs</text>
<text x="323.60" y="959.66" font-size="17.60" font-weight="normal" fill="#000" textLength="110.94" lengthAdjust="spacingAndGlyphs">MCF10.DCIS</text>
<text x="509.84" y="893.00" font-size="17.80" font-weight="bold" fill="#000" textLength="54.59" lengthAdjust="spacingAndGlyphs">0.0003</text>
<text x="509.84" y="925.89" font-size="17.80" font-weight="bold" fill="#000" textLength="53.72" lengthAdjust="spacingAndGlyphs">0.0001</text>
<text x="503.64" y="959.06" font-size="18.30" font-weight="bold" fill="#000" textLength="64.99" lengthAdjust="spacingAndGlyphs">&lt;0.0001</text>
<path transform="translate(90.46,466.10) scale(0.02516,-0.02723)" d="M391,0 H254 V530 C210,490 150,462 92,448 Q77,445 77,470 V560 Q77,585 100,592 C140,606 175,628 205,652 C240,680 262,700 275,716 H391 Z" fill="#000"/>
<rect x="83.0" y="456.9" width="6.5" height="3.5" rx="0.4" fill="#000"/>
<path transform="translate(446.99,466.00) scale(0.02484,-0.02682)" d="M391,0 H254 V530 C210,490 150,462 92,448 Q77,445 77,470 V560 Q77,585 100,592 C140,606 175,628 205,652 C240,680 262,700 275,716 H391 Z" fill="#000"/>
<path transform="translate(37.49,112.10) scale(0.02611,-0.02709)" d="M391,0 H254 V530 C210,490 150,462 92,448 Q77,445 77,470 V560 Q77,585 100,592 C140,606 175,628 205,652 C240,680 262,700 275,716 H391 Z" fill="#000"/>
</svg>
</body></html>
